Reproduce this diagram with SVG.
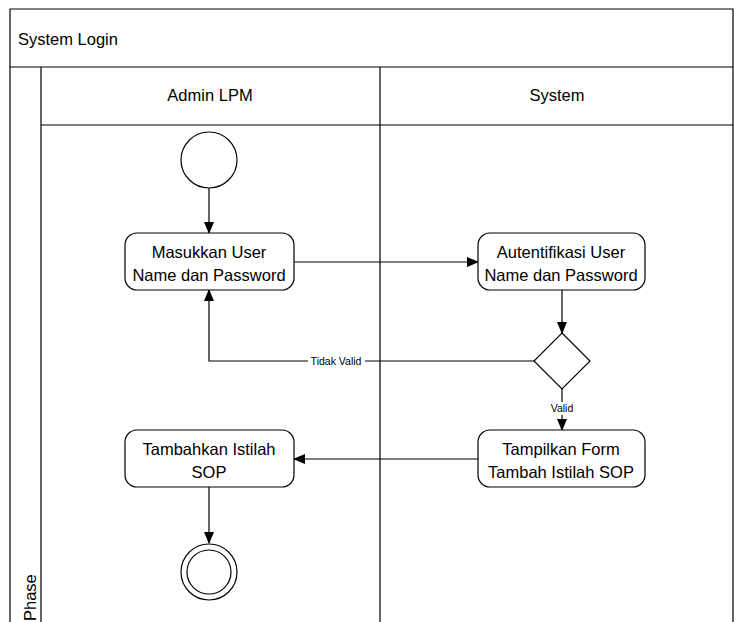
<svg xmlns="http://www.w3.org/2000/svg" width="734" height="622" viewBox="0 0 734 622">
<defs>
<marker id="ah" markerWidth="12" markerHeight="10" refX="11" refY="5" orient="auto" markerUnits="userSpaceOnUse">
<path d="M0,0 L12,5 L0,10 Z" fill="#000"/>
</marker>
<style>
.ln{fill:none;stroke:#000;stroke-width:1.2}
.nd{fill:#fff;stroke:#000;stroke-width:1.2}
.t{font-family:"Liberation Sans",Arial,sans-serif;font-size:16.5px;fill:#000}
.s{font-family:"Liberation Sans",Arial,sans-serif;font-size:10.5px;fill:#000}
.c{text-anchor:middle}
</style>
</defs>
<rect width="734" height="622" fill="#fff"/>
<g id="pool">
<path class="ln" d="M10,622 V9 H733 V622 M10,67 H733 M41,67 V622 M41,125 H733 M380,67 V622"/>
<text class="t" x="18" y="45">System Login</text>
<text class="t c" x="210" y="101">Admin LPM</text>
<text class="t c" x="557" y="101">System</text>
<text class="t" transform="translate(36,621) rotate(-90)">Phase</text>
</g>
<g id="connectors">
<path class="ln" d="M209,188 V233" marker-end="url(#ah)"/>
<path class="ln" d="M294,262 H478" marker-end="url(#ah)"/>
<path class="ln" d="M562,290 V333" marker-end="url(#ah)"/>
<path class="ln" d="M534,361 H209 V290" marker-end="url(#ah)"/>
<path class="ln" d="M562,389 V430" marker-end="url(#ah)"/>
<path class="ln" d="M478,459 H294" marker-end="url(#ah)"/>
<path class="ln" d="M209,487 V543" marker-end="url(#ah)"/>
<rect x="308" y="355" width="57" height="13" fill="#fff"/>
<text class="s c" x="336" y="365">Tidak Valid</text>
<rect x="549" y="402" width="26" height="13" fill="#fff"/>
<text class="s c" x="562" y="412">Valid</text>
</g>
<g id="start"><circle class="nd" cx="209" cy="160" r="28"/></g>
<g id="masukkan">
<rect class="nd" x="125" y="233" width="169" height="57" rx="12"/>
<text class="t c" x="209" y="258">Masukkan User</text>
<text class="t c" x="209" y="281">Name dan Password</text>
</g>
<g id="autentifikasi">
<rect class="nd" x="478" y="233" width="167" height="57" rx="12"/>
<text class="t c" x="561" y="258">Autentifikasi User</text>
<text class="t c" x="561" y="281">Name dan Password</text>
</g>
<g id="decision"><path class="nd" d="M562,333 L590,361 L562,389 L534,361 Z"/></g>
<g id="tampilkan">
<rect class="nd" x="478" y="430" width="167" height="57" rx="12"/>
<text class="t c" x="561" y="455">Tampilkan Form</text>
<text class="t c" x="561" y="478">Tambah Istilah SOP</text>
</g>
<g id="tambahkan">
<rect class="nd" x="125" y="430" width="169" height="57" rx="12"/>
<text class="t c" x="209" y="455">Tambahkan Istilah</text>
<text class="t c" x="209" y="478">SOP</text>
</g>
<g id="end">
<circle class="nd" cx="209" cy="572" r="28"/>
<circle class="nd" cx="209" cy="572" r="22"/>
</g>
</svg>
